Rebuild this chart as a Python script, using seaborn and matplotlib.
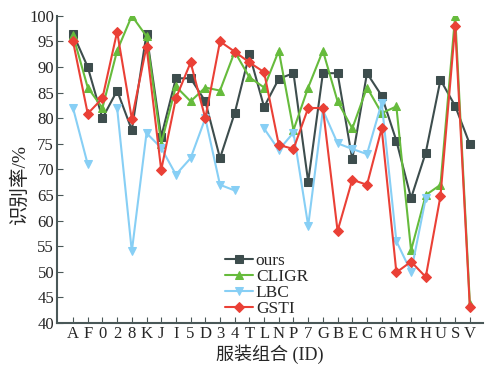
import numpy as np
import pandas as pd
import seaborn as sns
import matplotlib
matplotlib.use("Agg")
import matplotlib.pyplot as plt

ids = ['A', 'F', '0', '2', '8', 'K', 'J', 'I', '5', 'D', '3', '4', 'T', 'L',
       'N', 'P', '7', 'G', 'B', 'E', 'C', '6', 'M', 'R', 'H', 'U', 'S', 'V']

ours = [96.5, 90, 80, 85.4, 77.7, 96.5, 76.4, 87.8, 87.8, 83.3, 72.2, 81, 92.5, 82.2,
        87.7, 88.8, 67.6, 88.8, 88.8, 72, 88.8, 84.4, 75.6, 64.4, 73.3, 87.5, 82.4, 74.9]
cligr = [96.2, 86, 82, 93.2, 100, 96, 75, 86.2, 83.3, 86, 85.4, 93, 88, 86,
         93.2, 77.7, 86, 93.2, 83.3, 78, 86, 81, 82.3, 54.2, 65, 67, 100, 43.8]
lbc = [82, 71, np.nan, 82, 54, 77.1, 74.2, 69, 72.2, 80, 67, 65.9, np.nan, 78,
       73.8, 77.2, 59, 81.6, 75.1, 74, 73, 83, 56, 50, 64.4, np.nan, np.nan, np.nan]
gsti = [95, 80.9, 83.9, 96.9, 79.9, 94, 69.9, 83.9, 90.9, 80, 95, 93, 90.9, 89,
        74.8, 74, 82, 82, 58, 68, 67, 78, 49.9, 52, 49, 64.8, 98, 43.1]

series = [('ours', ours, '#3d4d4d', 's'),
          ('CLIGR', cligr, '#66bb3c', '^'),
          ('LBC', lbc, '#87cff5', 'v'),
          ('GSTI', gsti, '#ea4036', 'D')]

sns.set_style('ticks')
plt.rcParams['font.family'] = ['Liberation Serif', 'Noto Sans CJK SC']
plt.rcParams['xtick.direction'] = 'in'
plt.rcParams['ytick.direction'] = 'in'

fig = plt.figure(figsize=(4.86, 3.68), dpi=100)
ax = fig.add_axes([0.117, 0.122, 0.877, 0.835])

pos = np.arange(len(ids))
for name, vals, col, mk in series:
    df = pd.DataFrame({'x': pos, 'y': vals})
    # split on gaps so missing values break the line
    grp = df['y'].isna().cumsum()
    first = True
    for _, part in df.dropna().groupby(grp[df['y'].notna()]):
        sns.lineplot(data=part, x='x', y='y', ax=ax, color=col, marker=mk,
                     markersize=5.5, markeredgecolor=col, linewidth=1.5,
                     label=name if first else None, legend=False)
        first = False

ax.set_xlim(-1.1, 27.9)
ax.set_ylim(40, 100)
ax.set_yticks(np.arange(40, 101, 5))
ax.set_xticks(pos)
ax.set_xticklabels(ids)
ax.tick_params(axis='both', labelsize=12, length=4, color='#4a5858', pad=2)
sns.despine(ax=ax)
for s in ['left', 'bottom']:
    ax.spines[s].set_color('#4a5858')
    ax.spines[s].set_linewidth(1.5)

ax.set_xlabel('服装组合 (ID)', fontsize=13, labelpad=2)
ax.set_ylabel('识别率/%', fontsize=14, labelpad=4)
ax.yaxis.set_label_coords(-0.065, 0.45)

ax.legend(loc='lower left', bbox_to_anchor=(0.365, -0.02), frameon=False,
          fontsize=12.5, labelspacing=0.0, handlelength=1.65, handletextpad=0.15,
          borderpad=0.2)

fig.savefig('out.png', dpi=100)
